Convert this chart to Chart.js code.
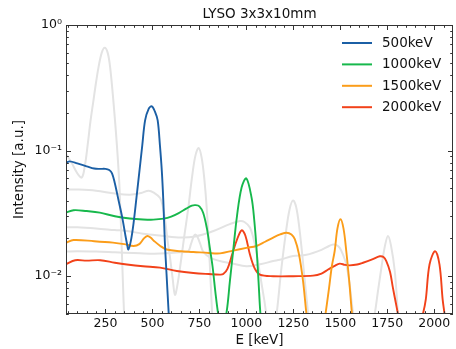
<!DOCTYPE html>
<html>
<head>
<meta charset="utf-8">
<script src="https://cdn.jsdelivr.net/npm/chart.js@4.4.1/dist/chart.umd.min.js"></script>
<style>
  html, body { margin: 0; padding: 0; background: #fff; }
  #wrap { width: 456px; height: 349px; }
</style>
</head>
<body>
<div id="wrap"><canvas id="chart"></canvas></div>
<script>
// energies (keV) and intensities
var e500 = [40, 60, 100, 150, 190, 220, 250, 270, 285, 300, 320, 340, 355, 365, 372, 385, 399, 415, 431, 446, 461, 480, 497, 513, 528, 540, 550, 558, 566, 575, 585, 595];
var v500 = [0.080, 0.082, 0.079, 0.075, 0.072, 0.0715, 0.0715, 0.070, 0.066, 0.055, 0.040, 0.029, 0.0216, 0.018, 0.0163, 0.019, 0.026, 0.042, 0.069, 0.11, 0.174, 0.215, 0.225, 0.205, 0.174, 0.11, 0.069, 0.04, 0.019, 0.0105, 0.0056, 0.003];

var e1000 = [40, 80, 150, 220, 300, 380, 450, 505, 560, 600, 640, 680, 710, 730, 750, 770, 790, 805, 820, 835, 850, 870, 895, 912, 930, 950, 975, 1000, 1028, 1042, 1055, 1065, 1075, 1090];
var v1000 = [0.032, 0.0335, 0.0330, 0.0321, 0.030, 0.0288, 0.0283, 0.0282, 0.0287, 0.0298, 0.0318, 0.0345, 0.0365, 0.0368, 0.036, 0.032, 0.024, 0.017, 0.012, 0.0075, 0.005, 0.0035, 0.0052, 0.009, 0.016, 0.030, 0.051, 0.060, 0.042, 0.028, 0.016, 0.009, 0.005, 0.003];

var e1500 = [40, 80, 190, 290, 350, 400, 430, 455, 473, 490, 510, 540, 576, 650, 718, 800, 860, 930, 1000, 1054, 1100, 1143, 1180, 1214, 1240, 1258, 1280, 1302, 1320, 1340, 1400, 1417, 1440, 1455, 1470, 1485, 1501, 1517, 1532, 1548, 1564, 1580];
var v1500 = [0.0185, 0.0194, 0.019, 0.0185, 0.018, 0.0174, 0.0180, 0.020, 0.0209, 0.0203, 0.019, 0.0175, 0.0163, 0.0158, 0.0156, 0.0153, 0.0152, 0.0160, 0.0168, 0.0174, 0.0188, 0.0203, 0.0215, 0.0222, 0.0215, 0.0197, 0.015, 0.0091, 0.005, 0.003, 0.003, 0.0045, 0.008, 0.012, 0.0158, 0.024, 0.0284, 0.024, 0.0158, 0.009, 0.0047, 0.003];

var e2000 = [40, 89, 150, 222, 300, 364, 450, 541, 630, 718, 800, 859, 877, 900, 925, 950, 975, 995, 1019, 1045, 1072, 1143, 1250, 1355, 1400, 1435, 1470, 1497, 1525, 1550, 1590, 1621, 1670, 1710, 1730, 1745, 1765, 1780, 1795, 1807, 1825, 1900, 1940, 1955, 1975, 2005, 2028, 2045, 2055, 2070];
var v2000 = [0.0125, 0.0134, 0.0133, 0.0134, 0.0128, 0.0124, 0.0120, 0.0117, 0.0110, 0.0106, 0.0104, 0.0103, 0.0104, 0.0115, 0.015, 0.0195, 0.0232, 0.021, 0.0149, 0.0115, 0.0103, 0.0100, 0.0100, 0.0101, 0.0105, 0.0113, 0.0121, 0.0126, 0.0123, 0.0122, 0.0124, 0.0128, 0.0136, 0.0144, 0.0142, 0.0132, 0.0108, 0.0081, 0.0062, 0.005, 0.0035, 0.003, 0.005, 0.0065, 0.0124, 0.0158, 0.0124, 0.0065, 0.005, 0.003];

// grey reference curves (intermediate energies)
var e250g = [40, 70, 100, 124, 140, 155, 170, 186, 200, 213, 230, 246, 262, 275, 292, 311, 325, 340, 352, 365];
var v250g = [0.094, 0.08, 0.066, 0.061, 0.075, 0.11, 0.17, 0.25, 0.35, 0.46, 0.6, 0.66, 0.6, 0.46, 0.25, 0.11, 0.05, 0.012, 0.004, 0.002];

var e750g = [40, 100, 200, 300, 380, 440, 480, 510, 541, 555, 568, 581, 594, 608, 620, 633, 647, 668, 691, 710, 728, 746, 762, 776, 789, 800, 810, 818, 830];
var v750g = [0.049, 0.049, 0.048, 0.0455, 0.0445, 0.046, 0.048, 0.046, 0.042, 0.036, 0.0275, 0.019, 0.014, 0.0095, 0.0071, 0.0085, 0.0117, 0.02, 0.035, 0.06, 0.09, 0.105, 0.088, 0.06, 0.035, 0.018, 0.009, 0.005, 0.0025];

var e1250g = [40, 100, 200, 300, 364, 450, 550, 650, 727, 825, 912, 966, 990, 1019, 1045, 1070, 1095, 1120, 1145, 1161, 1185, 1210, 1230, 1249, 1268, 1290, 1310, 1329, 1345];
var v1250g = [0.0245, 0.0245, 0.024, 0.0233, 0.0229, 0.0218, 0.021, 0.0203, 0.0207, 0.0229, 0.026, 0.0275, 0.027, 0.0244, 0.018, 0.011, 0.0065, 0.004, 0.0038, 0.005, 0.011, 0.022, 0.034, 0.040, 0.034, 0.019, 0.0095, 0.005, 0.0028];

var e1750g = [40, 100, 200, 300, 400, 500, 576, 640, 690, 705, 718, 728, 740, 755, 770, 810, 859, 920, 1001, 1080, 1143, 1178, 1249, 1320, 1400, 1440, 1462, 1480, 1497, 1515, 1532, 1548, 1565, 1590, 1620, 1650, 1683, 1700, 1720, 1738, 1754, 1770, 1790, 1807, 1820];
var v1750g = [0.0157, 0.0158, 0.0157, 0.0155, 0.0153, 0.0151, 0.0152, 0.0155, 0.0158, 0.018, 0.0205, 0.0215, 0.0205, 0.018, 0.0157, 0.014, 0.0132, 0.0127, 0.012, 0.0125, 0.0132, 0.0135, 0.0145, 0.0148, 0.0162, 0.0174, 0.0179, 0.0177, 0.0168, 0.0148, 0.0124, 0.009, 0.0055, 0.003, 0.0025, 0.003, 0.005, 0.0075, 0.012, 0.0175, 0.0209, 0.0175, 0.011, 0.005, 0.0028];

var seriesLabels = ['500keV', '1000keV', '1500keV', '2000keV'];
var seriesColors = ['#1b5fa5', '#17b84c', '#fb9d1a', '#f2421a'];
var xTicks = [250, 500, 750, 1000, 1250, 1500, 1750, 2000];
var yTicks = [0.01, 0.1, 1];
var yTickLabels = ['10\u207B\u00B2', '10\u207B\u00B9', '10\u2070'];

var FONT = "'DejaVu Sans', sans-serif";

function pts(es, vs) {
    return es.map(function (e, i) { return { x: e, y: vs[i] }; });
}

function line(label, es, vs, color, grey) {
    return {
        label: label,
        data: pts(es, vs),
        borderColor: color,
        borderWidth: grey ? 2 : 1.9,
        pointRadius: 0,
        tension: 0.35,
        fill: false
    };
}

var greyCol = '#e3e3e3';
var datasets = [
    line(seriesLabels[0], e500, v500, seriesColors[0]),
    line(seriesLabels[1], e1000, v1000, seriesColors[1]),
    line(seriesLabels[2], e1500, v1500, seriesColors[2]),
    line(seriesLabels[3], e2000, v2000, seriesColors[3]),
    line('g250', e250g, v250g, greyCol, true),
    line('g750', e750g, v750g, greyCol, true),
    line('g1250', e1250g, v1250g, greyCol, true),
    line('g1750', e1750g, v1750g, greyCol, true)
];

// frame, inward ticks, title and legend like the matplotlib original
var decor = {
    id: 'decor',
    afterDraw: function (chart) {
        var ctx = chart.ctx, a = chart.chartArea;
        var xs = chart.scales.x, ys = chart.scales.y;
        ctx.save();
        ctx.strokeStyle = '#333';
        ctx.lineWidth = 1;
        ctx.strokeRect(a.left + 0.5, a.top + 0.5, a.right - a.left - 1, a.bottom - a.top - 1);

        ctx.beginPath();
        var v, p, k;
        for (v = 50; v < 2100; v += 50) {
            p = Math.round(xs.getPixelForValue(v)) + 0.5;
            var len = (v % 250 === 0) ? 5 : 2.8;
            ctx.moveTo(p, a.bottom); ctx.lineTo(p, a.bottom - len);
            ctx.moveTo(p, a.top); ctx.lineTo(p, a.top + len);
        }
        [0.001, 0.01, 0.1].forEach(function (d) {
            for (k = 1; k <= 10; k++) {
                v = d * k;
                if (v < 0.005 - 1e-9 || v > 1 + 1e-9) continue;
                p = Math.round(ys.getPixelForValue(v)) + 0.5;
                var l = (k === 1 || k === 10) ? 5 : 2.8;
                ctx.moveTo(a.left, p); ctx.lineTo(a.left + l, p);
                ctx.moveTo(a.right, p); ctx.lineTo(a.right - l, p);
            }
        });
        ctx.stroke();

        ctx.fillStyle = '#111';
        ctx.font = '13.5px ' + FONT;
        ctx.textAlign = 'center';
        ctx.textBaseline = 'middle';
        ctx.fillText('LYSO 3x3x10mm', (a.left + a.right) / 2, 14.5);

        ctx.font = '13.5px ' + FONT;
        ctx.textAlign = 'left';
        for (var i = 0; i < seriesLabels.length; i++) {
            var y = 43 + i * 21.4;
            ctx.strokeStyle = seriesColors[i];
            ctx.lineWidth = 2;
            ctx.beginPath();
            ctx.moveTo(342, y); ctx.lineTo(372, y);
            ctx.stroke();
            ctx.fillStyle = '#111';
            ctx.fillText(seriesLabels[i], 382, y + 0.5);
        }
        ctx.restore();
    }
};

new Chart(document.getElementById('chart').getContext('2d'), {
    type: 'line',
    data: { datasets: datasets },
    plugins: [decor],
    options: {
        responsive: true,
        maintainAspectRatio: false,
        animation: false,
        layout: { padding: { left: 0, right: 3, top: 25, bottom: 0 } },
        plugins: { legend: { display: false }, title: { display: false }, tooltip: { enabled: false } },
        scales: {
            x: {
                type: 'linear',
                min: 40,
                max: 2100,
                afterBuildTicks: function (s) { s.ticks = xTicks.map(function (v) { return { value: v }; }); },
                afterFit: function (s) { s.height = 35; },
                grid: { display: false, drawTicks: false },
                border: { display: false },
                ticks: {
                    padding: 2, color: '#111', font: { family: FONT, size: 12.5 }, maxRotation: 0, autoSkip: false,
                    callback: function (v) { return String(v); }
                },
                title: { display: true, text: 'E [keV]', color: '#111', padding: 0, font: { family: FONT, size: 13.5 } }
            },
            y: {
                type: 'logarithmic',
                min: 0.005,
                max: 1,
                afterBuildTicks: function (s) { s.ticks = yTicks.map(function (v) { return { value: v }; }); },
                afterFit: function (s) { s.width = 66; },
                grid: { display: false, drawTicks: false },
                border: { display: false },
                ticks: {
                    padding: 4, color: '#111', font: { family: FONT, size: 12.5 }, autoSkip: false,
                    callback: function (v) { var i = yTicks.indexOf(v); return i >= 0 ? yTickLabels[i] : ''; }
                },
                title: { display: true, text: 'Intensity [a.u.]', color: '#111', padding: { top: 11, bottom: 0 }, font: { family: FONT, size: 13.5 } }
            }
        }
    }
});
</script>
</body>
</html>
